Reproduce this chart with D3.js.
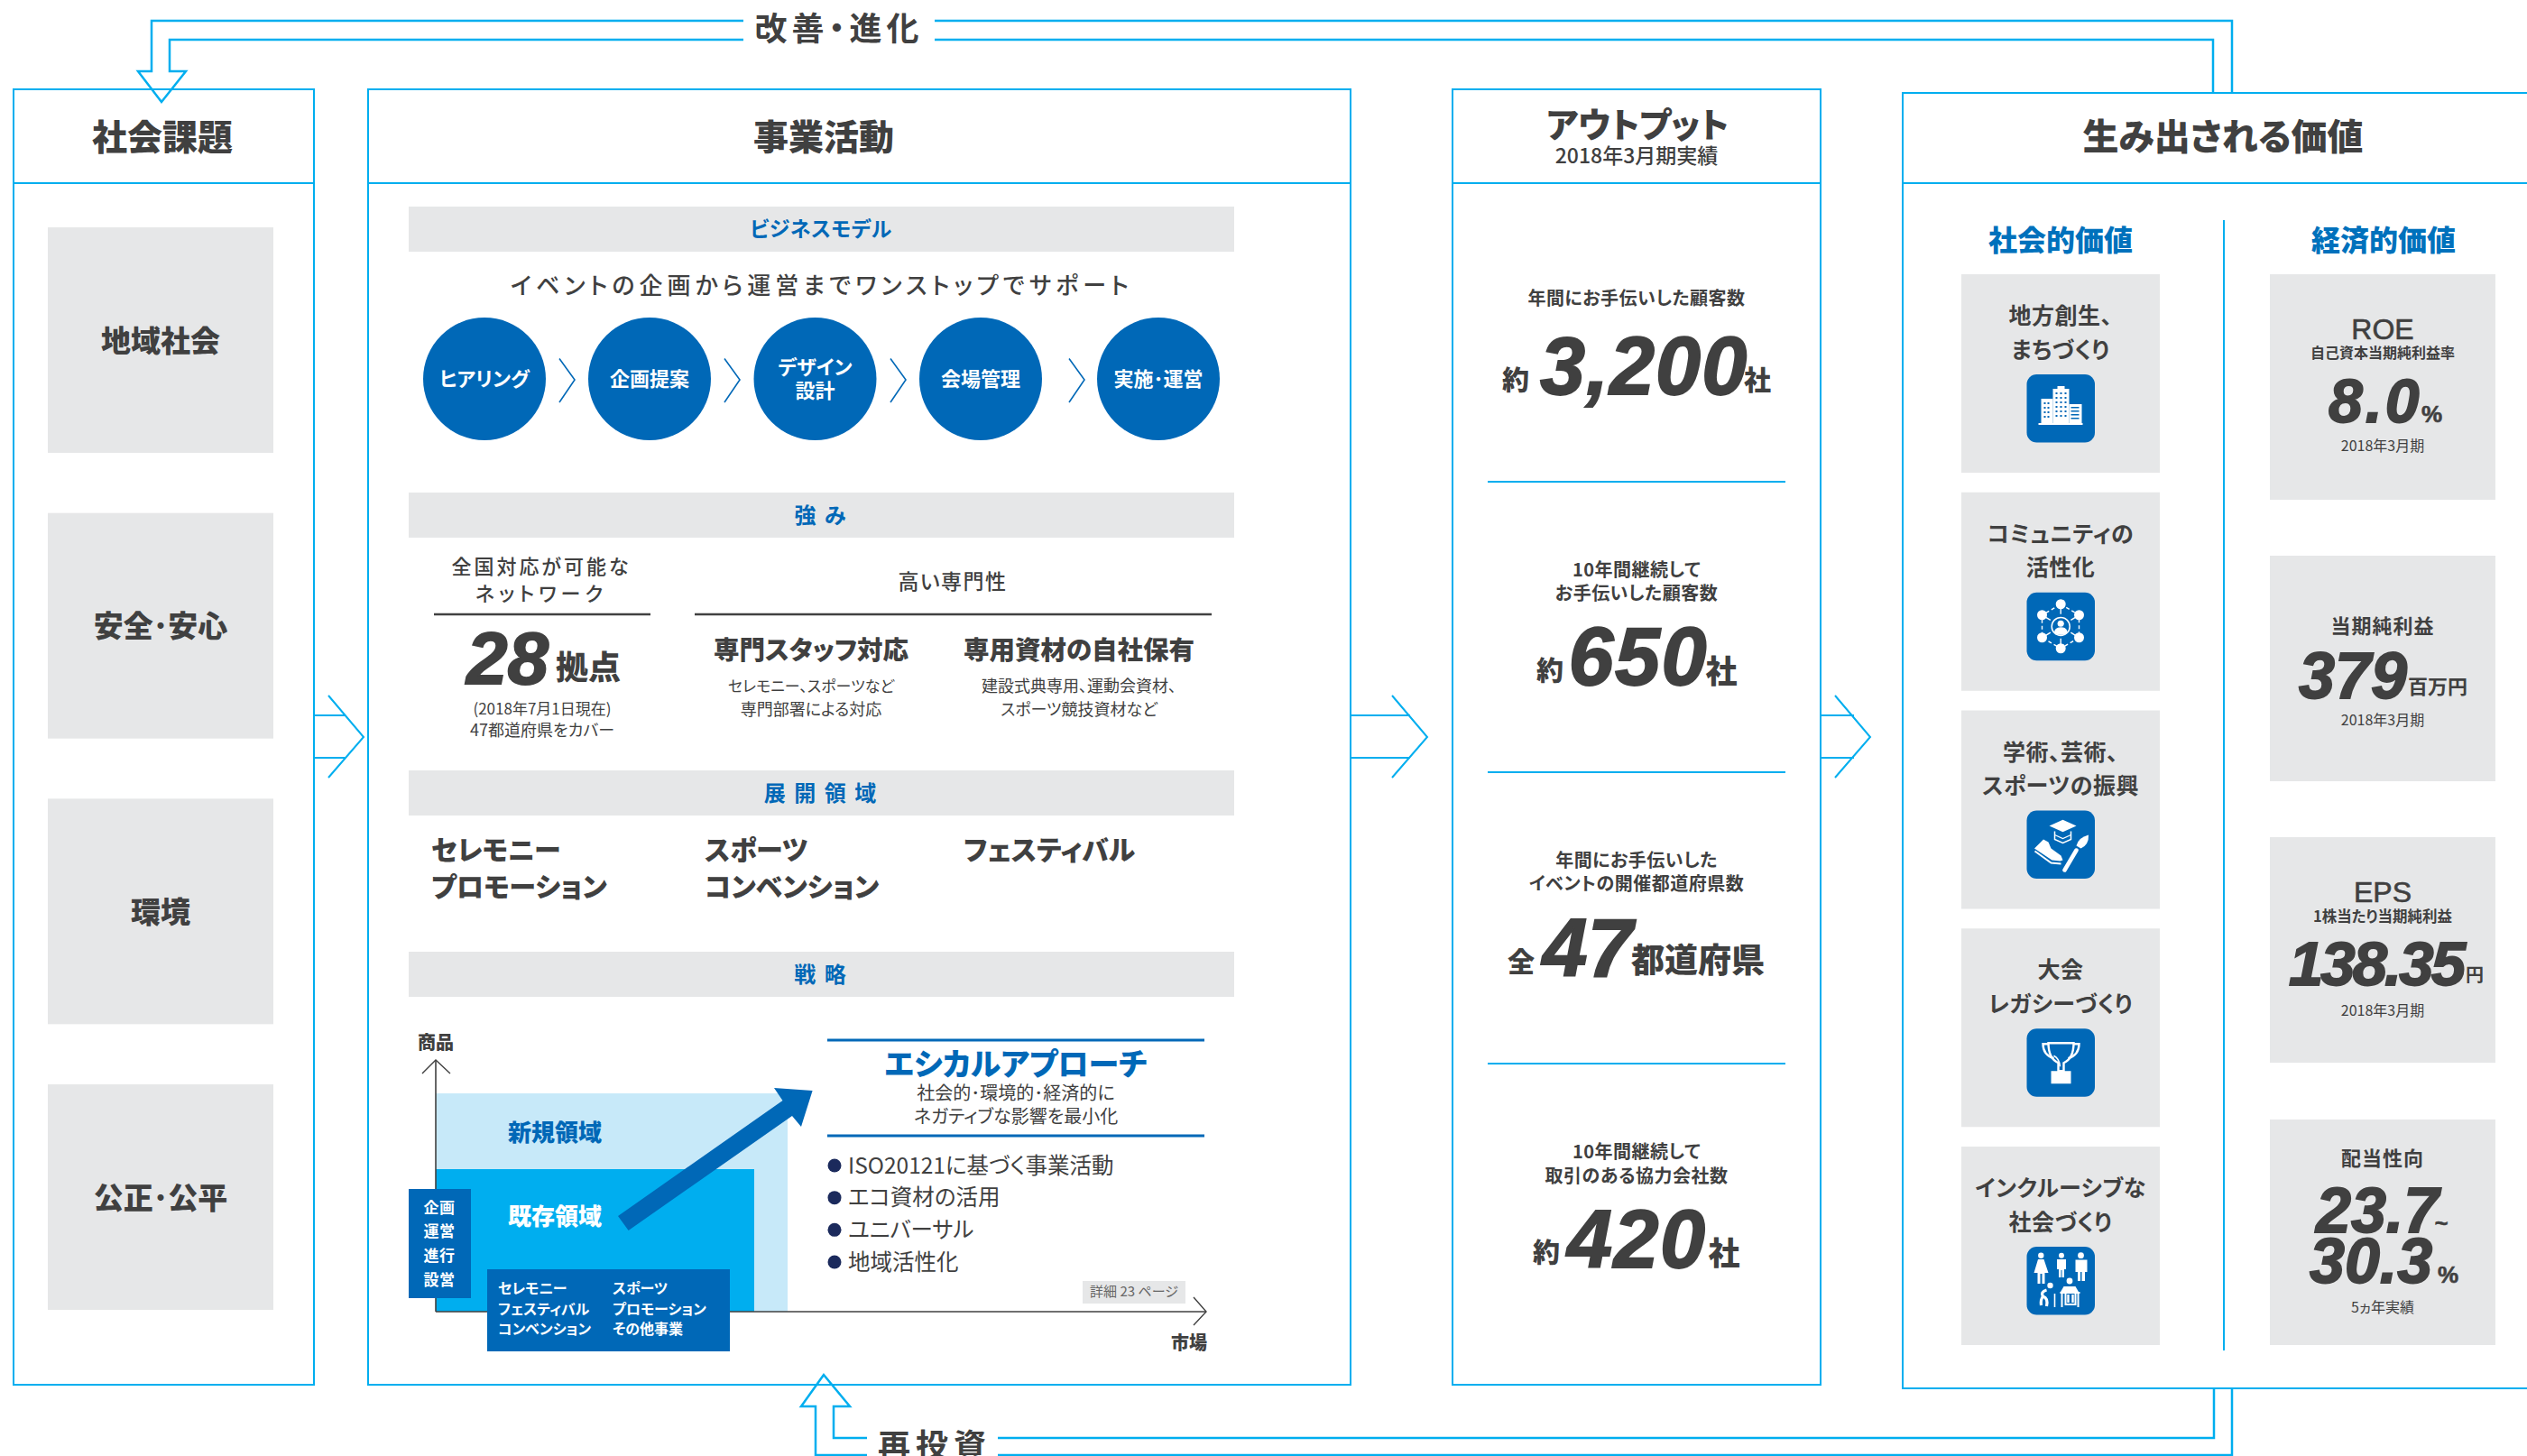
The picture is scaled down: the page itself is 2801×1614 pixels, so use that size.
<!DOCTYPE html>
<html>
<head>
<meta charset="utf-8">
<script src="https://cdn.jsdelivr.net/npm/d3@7"></script>
<style>
html, body { margin: 0; padding: 0; background: #fff; overflow: hidden; }
svg { display: block; }
text { font-family: "Noto Sans CJK JP", "Noto Sans", sans-serif; font-feature-settings: "palt"; }
</style>
</head>
<body>
<div id="chart"></div>
<script>
// Chart content
var panelTitles = ['社会課題', '事業活動', 'アウトプット', '生み出される価値'];
var issues = ['地域社会', '安全･安心', '環境', '公正･公平'];
var sectionTitles = ['ビジネスモデル', '強 み', '展 開 領 域', '戦 略'];
var steps = [['ヒアリング'], ['企画提案'], ['デザイン', '設計'], ['会場管理'], ['実施･運営']];
var fieldNames = ['セレモニー', 'プロモーション', 'スポーツ', 'コンベンション', 'フェスティバル'];
var phases = ['企画', '運営', '進行', '設営'];
var boxLeft = ['セレモニー', 'フェスティバル', 'コンベンション'];
var boxRight = ['スポーツ', 'プロモーション', 'その他事業'];
var bullets = ['ISO20121に基づく事業活動', 'エコ資材の活用', 'ユニバーサル', '地域活性化'];

var outputLabels = [['年間にお手伝いした顧客数'], ['10年間継続して', 'お手伝いした顧客数'], ['年間にお手伝いした', 'イベントの開催都道府県数'], ['10年間継続して', '取引のある協力会社数']];
var outputPrefix = ['約', '約', '全', '約'];
var outputNumbers = ['3,200', '650', '47', '420'];
var outputSuffix = ['社', '社', '都道府県', '社'];

var socialLabels = [['地方創生、', 'まちづくり'], ['コミュニティの', '活性化'], ['学術、芸術、', 'スポーツの振興'], ['大会', 'レガシーづくり'], ['インクルーシブな', '社会づくり']];
var socialIcons = ['building', 'network', 'study', 'trophy', 'people'];

var econNames = ['ROE', '当期純利益', 'EPS', '配当性向'];
var econSubs = ['自己資本当期純利益率', '', '1株当たり当期純利益', ''];
var econNumbers = ['8.0', '379', '138.35', '23.7'];
var econUnits = ['%', '百万円', '円', '~'];
var econPeriods = ['2018年3月期', '2018年3月期', '2018年3月期', '5ヵ年実績'];

// Layout
var LINE = '#00aeef', BLUE = '#0068b7', GREY = '#e6e7e8', INK = '#404040', NUM = '"Liberation Sans", Arial, sans-serif';
var width = 2801, height = 1614;

var svg = d3.select('#chart').append('svg').attr('width', width).attr('height', height);

var yIssue = d3.scalePoint().domain(issues).range([252, 1202]);
var ySection = d3.scaleOrdinal().domain(sectionTitles).range([229, 546, 854, 1055]);
var xStep = d3.scaleOrdinal().domain(steps.map(d => d[0])).range([537, 720, 903.5, 1087, 1284]);
var chevronX = [620, 803, 987, 1185];
var xField = d3.scaleOrdinal().domain(fieldNames).range([478, 478, 781, 781, 1068]);
var yField = d3.scaleOrdinal().domain(fieldNames).range([942, 983, 942, 983, 942]);
var yPhase = d3.scalePoint().domain(phases).range([1339, 1419]);
var yBoxRow = d3.scalePoint().domain([0, 1, 2]).range([1429, 1474]);
var yBullet = d3.scalePoint().domain(bullets).range([1292, 1399]);
var ySocial = d3.scalePoint().domain(socialIcons).range([304, 1271]);
var yEcon = d3.scaleOrdinal().domain(econNames).range([304, 616, 928, 1241]);

function label(x, y, s, size, o) {
    o = o || {};
    var base = o.base || 'central';
    var t = svg.append('text')
        .attr('x', x).attr('y', base == 'central' ? y - 1.8 : y)
        .attr('text-anchor', o.anchor || 'middle')
        .attr('dominant-baseline', base)
        .attr('font-size', size)
        .attr('font-weight', o.weight || 700)
        .attr('font-style', o.italic ? 'italic' : 'normal')
        .attr('fill', o.fill || INK)
        .style('letter-spacing', (o.ls || 0) + 'px')
        .style('font-family', o.num ? NUM : null)
        .text(s);
    if (o.thick) t.attr('stroke', o.fill || INK).attr('stroke-width', o.thick);
    return t;
}

// big italic figures are a heavier cut than Liberation Bold, so thicken them a little
function figure(x, y, s, size, ls) {
    return label(x, y, s, size, {anchor: 'start', base: 'alphabetic', italic: true, num: true, thick: 1.8, ls: ls || 0});
}

function lines(points, w, color, close) {
    return svg.append('path')
        .attr('d', d3.line()(points) + (close ? 'Z' : ''))
        .attr('fill', 'none')
        .attr('stroke', color || LINE)
        .attr('stroke-width', w || 2);
}

function box(x, y, w, h, fill) {
    return svg.append('rect').attr('x', x).attr('y', y).attr('width', w).attr('height', h).attr('fill', fill);
}

// white pictograms, roughly as printed
var icons = {
    building: function(g) {
        var w = '#fff';
        [[16, 27, 13, 28], [29, 16, 18, 39], [47, 33, 14, 22]].forEach(function(b) {
            g.append('rect').attr('x', b[0]).attr('y', b[1]).attr('width', b[2]).attr('height', b[3]).attr('fill', w);
        });
        g.append('rect').attr('x', 34).attr('y', 13).attr('width', 8).attr('height', 4).attr('fill', w);
        g.append('rect').attr('x', 13).attr('y', 54).attr('width', 49).attr('height', 2).attr('fill', w);
        d3.range(4).forEach(function(r) {
            d3.range(2).forEach(function(c) {
                g.append('rect').attr('x', 19 + c * 4).attr('y', 31 + r * 5).attr('width', 2).attr('height', 2).attr('fill', BLUE);
            });
        });
        d3.range(6).forEach(function(r) {
            d3.range(3).forEach(function(c) {
                g.append('rect').attr('x', 32 + c * 5).attr('y', 20 + r * 5).attr('width', 2).attr('height', 2).attr('fill', BLUE);
            });
        });
        d3.range(4).forEach(function(r) {
            g.append('rect').attr('x', 49).attr('y', 36 + r * 4).attr('width', 9).attr('height', 1.5).attr('fill', BLUE);
        });
    },
    network: function(g) {
        var hub = [37.7, 37.7], nodes = [[37.7, 13], [58, 25], [58, 50], [37.7, 62], [17, 50], [17, 25]];
        g.append('path').attr('d', d3.line()(nodes) + 'Z').attr('fill', 'none').attr('stroke', '#fff')
            .attr('stroke-width', 1.4).attr('stroke-dasharray', '4 3');
        nodes.forEach(function(n) {
            g.append('line').attr('x1', hub[0] + (n[0] - hub[0]) * 0.55).attr('y1', hub[1] + (n[1] - hub[1]) * 0.55)
                .attr('x2', hub[0] + (n[0] - hub[0]) * 0.8).attr('y2', hub[1] + (n[1] - hub[1]) * 0.8)
                .attr('stroke', '#fff').attr('stroke-width', 1.4);
            g.append('circle').attr('cx', n[0]).attr('cy', n[1]).attr('r', 5.5).attr('fill', '#fff');
        });
        g.append('circle').attr('cx', hub[0]).attr('cy', hub[1]).attr('r', 10).attr('fill', 'none').attr('stroke', '#fff').attr('stroke-width', 1.5);
        g.append('circle').attr('cx', hub[0]).attr('cy', 34.5).attr('r', 3.6).attr('fill', '#fff');
        g.append('path').attr('d', 'M30.5,45 Q30.5,38.5 37.7,38.5 Q45,38.5 45,45 Q37.7,49 30.5,45Z').attr('fill', '#fff');
    },
    study: function(g) {
        g.append('path').attr('d', 'M25,17 L40,10.3 L55,17 L40,23.7Z').attr('fill', '#fff');
        g.append('path').attr('d', 'M31,23 V32 L40,36 L49,32 V23').attr('fill', 'none').attr('stroke', '#fff').attr('stroke-width', 1.5);
        g.append('path').attr('d', 'M31,27 L40,31 L49,27').attr('fill', 'none').attr('stroke', '#fff').attr('stroke-width', 1.2);
        g.append('path').attr('d', 'M8.5,42 L18.5,32 L24,35 L27,42 L38,50 L40,55 L37,56 L28,55Z').attr('fill', '#fff');
        g.append('path').attr('d', 'M9,45 L27,58 L38,59').attr('fill', 'none').attr('stroke', '#fff').attr('stroke-width', 2);
        g.append('path').attr('d', 'M42,66 L55,44').attr('stroke', '#fff').attr('stroke-width', 4.5).attr('stroke-linecap', 'round');
        g.append('path').attr('d', 'M68.5,27 Q69,38 60,42 L55,39 Q57,30 68.5,27Z').attr('fill', '#fff');
    },
    trophy: function(g) {
        g.append('path').attr('d', 'M24,16 H52 Q52,33 41,38 V47 H35 V38 Q24,33 24,16Z').attr('fill', 'none').attr('stroke', '#fff').attr('stroke-width', 2.4);
        g.append('path').attr('d', 'M24,17 H18 Q18,29 30,33 M52,17 H58 Q58,29 46,33').attr('fill', 'none').attr('stroke', '#fff').attr('stroke-width', 2.4);
        g.append('path').attr('d', 'M30,30 Q36,33 37,42').attr('fill', 'none').attr('stroke', '#fff').attr('stroke-width', 1.5);
        g.append('rect').attr('x', 27).attr('y', 47).attr('width', 22).attr('height', 14).attr('fill', '#fff');
    },
    people: function(g) {
        var w = '#fff';
        function dot(x, y, r) { g.append('circle').attr('cx', x).attr('cy', y).attr('r', r).attr('fill', w); }
        function fill(d) { g.append('path').attr('d', d).attr('fill', w); }
        dot(15.8, 9.7, 3.2);
        fill('M12.5,14 H19 L24,29 H20 V41 H17 V30 H15 V41 H12 V29 H8Z');
        dot(38.5, 9.7, 3);
        fill('M33.5,14 H43.5 V25 H41.5 V34 H39 V26 H38 V34 H35.5 V25 H33.5Z');
        dot(60, 9.7, 3.4);
        fill('M54,14.5 H67 V28 H64.5 V38 H61 V28 H59.5 V38 H56.5 V28 H54Z');
        dot(26, 43, 3.2);
        g.append('path').attr('d', 'M22,48 Q15,50 18,55 Q24,57 22,66 M18,55 Q15,59 16,65').attr('fill', 'none').attr('stroke', w).attr('stroke-width', 3.2);
        g.append('path').attr('d', 'M31,52 V67').attr('stroke', w).attr('stroke-width', 1.6);
        dot(47.5, 38, 3.4);
        fill('M41,44 H54 L58,51 H37Z');
        g.append('path').attr('d', 'M37,51 H59 M39,51 V67 M57,51 V67 M43,51 V64 H54 V51').attr('fill', 'none').attr('stroke', w).attr('stroke-width', 2);
        g.append('path').attr('d', 'M46,53 V62 M51,53 V62').attr('stroke', w).attr('stroke-width', 2.4);
    }
};

// Feedback loops on top and bottom
lines([[824, 23], [168, 23], [168, 79], [153, 79], [179, 113], [206, 79], [188, 79], [188, 44], [824, 44]], 2.5);
lines([[1036, 23], [2474, 23], [2474, 103]], 2.5);
lines([[1036, 44], [2453, 44], [2453, 103]], 2.5);
label(930, 31, '改善・進化', 36, {ls: 5, weight: 700});

lines([[961, 1594], [924, 1594], [924, 1559], [942, 1559], [913, 1524], [888, 1559], [904, 1559], [904, 1613], [961, 1613]], 2.5);
lines([[1106, 1594], [2454, 1594], [2454, 1539]], 2.5);
lines([[1106, 1613], [2474, 1613], [2474, 1539]], 2.5);
label(1036, 1602, '再投資', 36, {ls: 6, weight: 700});

// Arrows between panels
[[347, 364, 382, 403], [1497, 1543, 1563, 1582], [2018, 2034, 2055, 2073]].forEach(function(a) {
    lines([[a[0], 793], [a[2], 793]], 2);
    lines([[a[0], 840], [a[2], 840]], 2);
    lines([[a[1], 771], [a[3], 817], [a[1], 862]], 2);
});

// Panels
var panels = [[15, 99, 348, 1535], [408, 99, 1497, 1535], [1610, 99, 2018, 1535]];
panels.forEach(function(p) {
    svg.append('rect').attr('x', p[0]).attr('y', p[1]).attr('width', p[2] - p[0]).attr('height', p[3] - p[1])
        .attr('fill', 'none').attr('stroke', LINE).attr('stroke-width', 2);
    lines([[p[0], 203], [p[2], 203]], 2);
});
lines([[2810, 103], [2109, 103], [2109, 1539], [2810, 1539]], 2);
lines([[2109, 203], [2810, 203]], 2);

label(180, 151, panelTitles[0], 39, {weight: 900});
label(913, 151, panelTitles[1], 39, {weight: 900});
label(1815, 137, panelTitles[2], 38, {weight: 900});
label(1814, 172.5, '2018年3月期実績', 23, {weight: 500});
label(2464, 151, panelTitles[3], 40, {weight: 900});

// Social issues
svg.selectAll('.issue').data(issues).enter().append('rect')
    .attr('class', 'issue')
    .attr('x', 53).attr('width', 250).attr('height', 250)
    .attr('y', d => yIssue(d)).attr('fill', GREY);
issues.forEach(function(d) { label(178, yIssue(d) + 125.5, d, 33, {weight: 900}); });

// Section bars
svg.selectAll('.section').data(sectionTitles).enter().append('rect')
    .attr('class', 'section')
    .attr('x', 453).attr('width', 915).attr('height', 50)
    .attr('y', d => ySection(d)).attr('fill', GREY);
sectionTitles.forEach(function(d, i) { label(910, ySection(d) + 25, d, i == 0 ? 23 : 24, {fill: BLUE, ls: i == 0 ? 0.5 : 2}); });

// Business model
label(911, 316, 'イベントの企画から運営までワンストップでサポート', 26, {ls: 5, weight: 500});
svg.selectAll('.step').data(steps).enter().append('circle')
    .attr('class', 'step')
    .attr('cx', d => xStep(d[0])).attr('cy', 420).attr('r', 68).attr('fill', BLUE);
steps.forEach(function(d) {
    d.forEach(function(t, i) {
        var y = d.length > 1 ? 407 + i * 26 : 420;
        label(xStep(d[0]), y, t, 22, {fill: '#fff'});
    });
});
chevronX.forEach(function(x) { lines([[x, 397.5], [x + 17, 421], [x, 446]], 1.6, BLUE); });

// Strengths
label(600, 628, '全国対応が可能な', 22, {ls: 3, weight: 500});
label(600, 658, 'ネットワーク', 22, {ls: 5, weight: 500});
label(1056, 644.5, '高い専門性', 23, {ls: 1.5, weight: 500});
lines([[481, 681], [721, 681]], 2.5, INK);
lines([[770, 681], [1343, 681]], 2.5, INK);
figure(517, 758, '28', 82);
label(652, 739, '拠点', 36, {weight: 900});
label(601, 786, '(2018年7月1日現在)', 17, {weight: 400});
label(601, 810, '47都道府県をカバー', 18, {weight: 400});
label(899, 720, '専門スタッフ対応', 28.5, {weight: 900});
label(1196, 720, '専用資材の自社保有', 28.5, {weight: 900});
label(899, 761, 'セレモニー、スポーツなど', 17, {weight: 400});
label(899, 787, '専門部署による対応', 18, {weight: 400});
label(1196, 761, '建設式典専用、運動会資材、', 18, {weight: 400});
label(1196, 787, 'スポーツ競技資材など', 18, {weight: 400});

// Business fields
fieldNames.forEach(function(d) { label(xField(d), yField(d), d, 30, {anchor: 'start', weight: 900}); });

// Strategy diagram
box(483, 1212, 390, 242, '#c7e9f9');
box(483, 1296, 353, 158, '#00aeef');
lines([[483, 1454], [483, 1176]], 1.6, INK);
lines([[468, 1190], [483, 1175], [499, 1190]], 1.4, INK);
lines([[483, 1454], [1336, 1454]], 1.6, INK);
lines([[1323, 1438], [1337, 1454], [1323, 1469]], 1.4, INK);
label(483, 1156, '商品', 20, {weight: 900});
label(1318, 1489, '市場', 20, {weight: 900});
label(615, 1255, '新規領域', 26, {fill: BLUE, weight: 900});
label(615, 1348, '既存領域', 26, {fill: '#fff', weight: 900});
box(453, 1318, 69, 121, BLUE);
phases.forEach(function(d) { label(487, yPhase(d), d, 17, {fill: '#fff', ls: 0.5}); });
box(540, 1407, 269, 91, BLUE);
boxLeft.forEach(function(d, i) { label(552, yBoxRow(i), d, 16, {anchor: 'start', fill: '#fff'}); });
boxRight.forEach(function(d, i) { label(679, yBoxRow(i), d, 16, {anchor: 'start', fill: '#fff'}); });
svg.append('path')
    .attr('d', d3.line()([[900.6, 1209], [858, 1206], [867.5, 1220], [685, 1348], [696.6, 1364], [878, 1237], [888, 1249]]) + 'Z')
    .attr('fill', BLUE);

lines([[917, 1153], [1335, 1153]], 3, BLUE);
lines([[917, 1259], [1335, 1259]], 3, BLUE);
label(1126, 1179.5, 'エシカルアプローチ', 34, {fill: BLUE, weight: 900});
label(1126, 1212, '社会的･環境的･経済的に', 20, {weight: 400});
label(1126, 1238, 'ネガティブな影響を最小化', 20, {weight: 400});
bullets.forEach(function(d) {
    svg.append('circle').attr('cx', 925).attr('cy', yBullet(d)).attr('r', 7.5).attr('fill', '#1b2a5c');
    label(940, yBullet(d), d, 24.5, {anchor: 'start', weight: 400});
});
box(1200, 1420, 114, 25, GREY);
label(1257, 1432.5, '詳細 23 ページ', 15, {weight: 400, fill: '#666'});

// Output figures
var outY = [[331], [632, 658], [954, 980], [1277, 1304]];
var outNumX = [1707, 1738.5, 1709.6, 1737];
var outBase = [437, 759, 1082, 1404.6];
var outLs = [1, 1.5, 0, 1.5];
var outPreX = [1680, 1718, 1686, 1714];
var outPreY = [421, 743, 1066, 1388];
var outSufX = [1948, 1908, 1882, 1911];
var outSufY = [421, 743, 1064, 1388];
var outSufSize = [30, 35, 37, 35];
[534, 856, 1179].forEach(function(y) { lines([[1649, y], [1979, y]], 2); });
outputNumbers.forEach(function(d, i) {
    outputLabels[i].forEach(function(t, j) { label(1814, outY[i][j], t, 20, {ls: 0.5, weight: 700}); });
    label(outPreX[i], outPreY[i], outputPrefix[i], 30, {weight: 900});
    figure(outNumX[i], outBase[i], d, 90, outLs[i]);
    label(outSufX[i], outSufY[i], outputSuffix[i], outSufSize[i], {weight: 900});
});

// Created value
lines([[2465, 244], [2465, 1497]], 2);
label(2284, 266, '社会的価値', 32, {fill: '#0071bc', weight: 900});
label(2642, 266, '経済的価値', 32, {fill: '#0071bc', weight: 900});

svg.selectAll('.social').data(socialIcons).enter().append('rect')
    .attr('class', 'social')
    .attr('x', 2174).attr('width', 220).attr('height', 220)
    .attr('y', d => ySocial(d)).attr('fill', GREY);

socialIcons.forEach(function(name, i) {
    var top = ySocial(name);
    socialLabels[i].forEach(function(t, j) { label(2284, top + 46 + j * 37.5, t, 25, {ls: 0.5, weight: 700}); });
    var g = svg.append('g').attr('transform', 'translate(2246.5,' + (top + 111) + ')');
    g.append('rect').attr('width', 75.5).attr('height', 75.5).attr('rx', 11).attr('fill', BLUE);
    icons[name](g);
});

svg.selectAll('.econ').data(econNames).enter().append('rect')
    .attr('class', 'econ')
    .attr('x', 2516).attr('width', 250).attr('height', 250)
    .attr('y', d => yEcon(d)).attr('fill', GREY);

// ROE
label(2641, 367, econNames[0], 32, {weight: 400, num: true, thick: 0.6});
label(2641, 391.5, econSubs[0], 16);
figure(2581, 467.5, econNumbers[0], 68, 3);
label(2684, 467.5, econUnits[0], 26, {anchor: 'start', base: 'alphabetic', num: true, thick: 0.6});
label(2641, 494.5, econPeriods[0], 16, {weight: 400});
// Net income
label(2641, 694, econNames[1], 22, {ls: 1, weight: 700});
figure(2548, 773.5, econNumbers[1], 72);
label(2702, 761, econUnits[1], 22);
label(2641, 799, econPeriods[1], 16, {weight: 400});
// EPS
label(2641, 991, econNames[2], 32, {weight: 400, num: true, thick: 0.6});
label(2641, 1017, econSubs[2], 16.5);
figure(2537, 1092, econNumbers[2], 69, -3);
label(2743, 1081, econUnits[2], 20);
label(2641, 1121, econPeriods[2], 16, {weight: 400});
// Payout ratio
label(2641, 1284, econNames[3], 22, {ls: 1, weight: 700});
figure(2567, 1366, econNumbers[3], 70);
label(2706, 1358, econUnits[3], 26, {num: true, thick: 0.4});
figure(2560, 1422, '30.3', 70);
label(2702, 1422, '%', 26, {anchor: 'start', base: 'alphabetic', num: true, thick: 0.6});
label(2641, 1450, econPeriods[3], 16, {weight: 400});
</script>
</body>
</html>
